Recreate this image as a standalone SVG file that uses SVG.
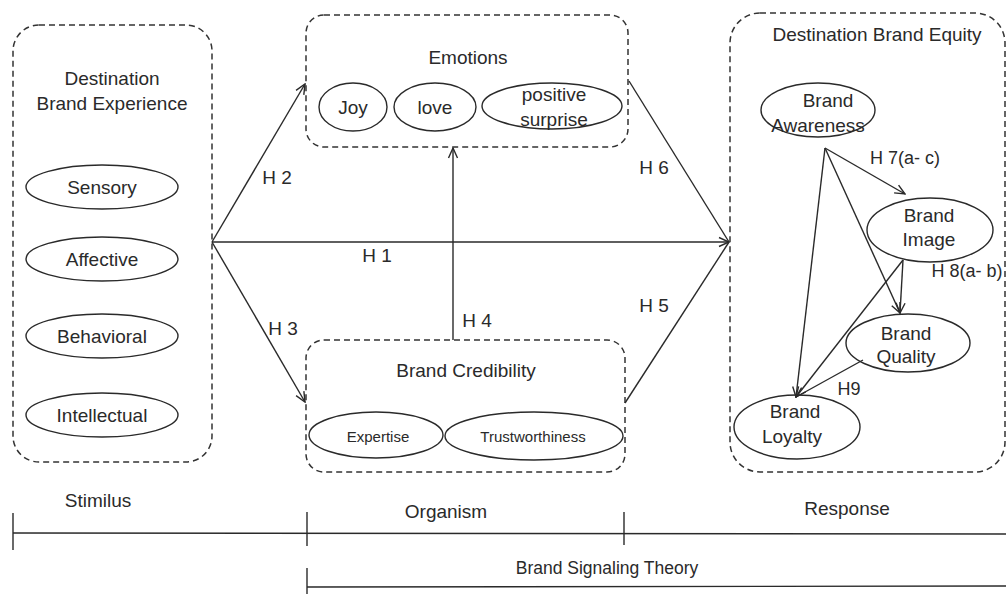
<svg xmlns="http://www.w3.org/2000/svg" width="1006" height="594" viewBox="0 0 1006 594">
<defs>
<style>
text{font-family:"Liberation Sans",Arial,sans-serif;fill:#2a2a2a;text-anchor:middle}
.t{font-size:19px}
.s{font-size:15px}
.box{fill:none;stroke:#333;stroke-width:1.5;stroke-dasharray:6 4}
.el{fill:#fff;stroke:#2a2a2a;stroke-width:1.4}
.ln{fill:none;stroke:#2a2a2a;stroke-width:1.4}
.ar{fill:none;stroke:#2a2a2a;stroke-width:1.4;marker-end:url(#arr)}
.tl{stroke:#2a2a2a;stroke-width:1.4}
</style>
<marker id="arr" markerUnits="userSpaceOnUse" markerWidth="12" markerHeight="12" viewBox="0 0 12 12" refX="11" refY="6" orient="auto">
<path d="M1,1.5 L11,6 L1,10.5" fill="none" stroke="#2a2a2a" stroke-width="1.4"/>
</marker>
</defs>
<rect width="1006" height="594" fill="#fff"/>

<g id="stimulus-box">
<rect class="box" x="13" y="25" width="199" height="437" rx="26" ry="26"/>
<text class="t" x="112" y="85">Destination</text>
<text class="t" x="112" y="110">Brand Experience</text>
</g>
<g id="node-sensory"><ellipse class="el" cx="102" cy="187" rx="76" ry="22"/><text class="t" x="102" y="194">Sensory</text></g>
<g id="node-affective"><ellipse class="el" cx="102" cy="259" rx="76" ry="22"/><text class="t" x="102" y="266">Affective</text></g>
<g id="node-behavioral"><ellipse class="el" cx="102" cy="336" rx="76" ry="22"/><text class="t" x="102" y="343">Behavioral</text></g>
<g id="node-intellectual"><ellipse class="el" cx="102" cy="415" rx="76" ry="22"/><text class="t" x="102" y="422">Intellectual</text></g>

<g id="emotions-box">
<rect class="box" x="306" y="15" width="322" height="132" rx="18" ry="18"/>
<text class="t" x="468" y="64">Emotions</text>
</g>
<g id="node-joy"><ellipse class="el" cx="353" cy="107" rx="34" ry="24"/><text class="t" x="353" y="114">Joy</text></g>
<g id="node-love"><ellipse class="el" cx="435" cy="107" rx="41" ry="24"/><text class="t" x="435" y="114">love</text></g>
<g id="node-positive-surprise"><ellipse class="el" cx="552" cy="106" rx="70" ry="23"/><text class="t" x="554" y="101">positive</text><text class="t" x="554" y="126">surprise</text></g>

<g id="credibility-box">
<rect class="box" x="306" y="340" width="319" height="132" rx="18" ry="18"/>
<text class="t" x="466" y="377">Brand Credibility</text>
</g>
<g id="node-expertise"><ellipse class="el" cx="376" cy="435" rx="67" ry="23"/><text class="s" x="378" y="442">Expertise</text></g>
<g id="node-trustworthiness"><ellipse class="el" cx="534" cy="436" rx="89" ry="24"/><text class="s" x="533" y="442">Trustworthiness</text></g>

<g id="equity-box">
<rect class="box" x="730" y="13" width="275" height="459" rx="30" ry="30"/>
<text class="t" x="877" y="41">Destination Brand Equity</text>
</g>
<g id="node-awareness"><ellipse class="el" cx="818" cy="110" rx="57" ry="27"/><text class="t" x="828" y="107">Brand</text><text class="t" x="818" y="132">Awareness</text></g>
<g id="node-image"><ellipse class="el" cx="930" cy="230" rx="63" ry="32"/><text class="t" x="929" y="222">Brand</text><text class="t" x="929" y="246">Image</text></g>
<g id="node-quality"><ellipse class="el" cx="908" cy="343" rx="62" ry="29"/><text class="t" x="906" y="340">Brand</text><text class="t" x="906" y="363">Quality</text></g>
<g id="node-loyalty"><ellipse class="el" cx="797" cy="427" rx="63" ry="32"/><text class="t" x="795" y="418">Brand</text><text class="t" x="792" y="443">Loyalty</text></g>

<g id="connectors">
<line class="ar" x1="212" y1="242" x2="729" y2="242"/>
<line class="ar" x1="212" y1="242" x2="305" y2="84"/>
<line class="ar" x1="212" y1="242" x2="305" y2="402"/>
<line class="ar" x1="453" y1="340" x2="453" y2="148"/>
<line class="ln" x1="629" y1="81" x2="729" y2="242"/>
<line class="ln" x1="625" y1="403" x2="729" y2="242"/>
<line class="ar" x1="825" y1="148" x2="796" y2="397"/>
<line class="ar" x1="825" y1="148" x2="905" y2="194"/>
<line class="ar" x1="825" y1="148" x2="900" y2="313"/>
<line class="ar" x1="903" y1="260" x2="900" y2="313"/>
<line class="ar" x1="903" y1="260" x2="796" y2="397"/>
<line class="ln" x1="863" y1="360" x2="796" y2="397"/>
</g>

<g id="labels">
<text class="t" x="277" y="184">H 2</text>
<text class="t" x="283" y="335">H 3</text>
<text class="t" x="377" y="262">H 1</text>
<text class="t" x="477" y="327">H 4</text>
<text class="t" x="654" y="174">H 6</text>
<text class="t" x="654" y="312">H 5</text>
<text x="905" y="164" style="font-size:18px">H 7(a- c)</text>
<text x="967" y="277" style="font-size:18px">H 8(a- b)</text>
<text x="849" y="395" style="font-size:18px">H9</text>
</g>

<g id="timeline">
<line class="tl" x1="13" y1="533" x2="1006" y2="534"/>
<line class="tl" x1="13" y1="513" x2="13" y2="550"/>
<line class="tl" x1="307" y1="512" x2="307" y2="546"/>
<line class="tl" x1="624" y1="512" x2="624" y2="545"/>
<line class="tl" x1="307" y1="587" x2="1006" y2="586"/>
<line class="tl" x1="307" y1="568" x2="307" y2="594"/>
<text class="t" x="98" y="507">Stimilus</text>
<text class="t" x="446" y="518">Organism</text>
<text class="t" x="847" y="515">Response</text>
<text x="607" y="574" style="font-size:17.5px">Brand Signaling Theory</text>
</g>
</svg>
